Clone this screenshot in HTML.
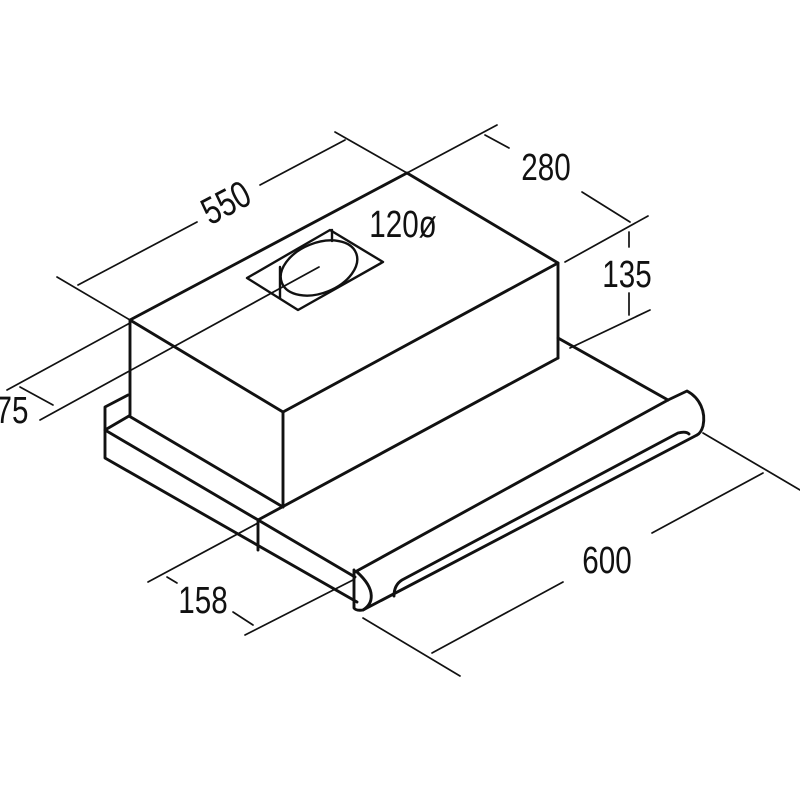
<!DOCTYPE html>
<html><head><meta charset="utf-8"><style>
html,body{margin:0;padding:0;background:#fff;}
svg{display:block}
text{font-family:"Liberation Sans",sans-serif;font-size:38px;fill:#111;}
</style></head><body>
<svg width="800" height="800" viewBox="0 0 800 800" xmlns="http://www.w3.org/2000/svg">
<g fill="none" stroke="#111" stroke-width="2.9" stroke-linejoin="round" stroke-linecap="round">
  <polyline points="130,415 130,320 407,173 558,263 558,358"/>
  <polyline points="130,320 283,412 558,263"/>
  <line x1="283" y1="412" x2="283" y2="507"/>
  <polyline points="128,395 105,407 105,458 357,602"/>
  <line x1="105" y1="430" x2="129" y2="416"/>
  <line x1="105" y1="430" x2="355" y2="577"/>
  <line x1="129" y1="416" x2="283" y2="507"/>
  <line x1="258" y1="520" x2="558" y2="358"/>
  <line x1="258" y1="520" x2="258" y2="550"/>
  <line x1="558" y1="338" x2="668" y2="400"/>
  <line x1="355" y1="572" x2="668" y2="400"/>
  <path d="M668,400 L687,391 C700,398 706,412 703,426 Q701,433 697,435"/>
  <path d="M354,570 L354,608 Q356,611 363,610 C373,604 377,590 357,572"/>
  <line x1="363" y1="610" x2="697" y2="435"/>
  <path d="M394,596 Q394,585 402,580 L678,433 Q686,431 689,434"/>
  <polygon points="247,278 330,230 383,262 298,310" stroke-width="2.4"/>
  <ellipse cx="319" cy="268" rx="40" ry="25" transform="rotate(-22 319 268)" stroke-width="2.4"/>
  <line x1="280" y1="267" x2="280" y2="298" stroke-width="2.4"/>
  <line x1="332" y1="230" x2="332" y2="241" stroke-width="2.4"/>
</g>
<g fill="none" stroke="#111" stroke-width="1.7" stroke-linecap="round">
  <line x1="130" y1="320" x2="57" y2="277"/>
  <line x1="407" y1="173" x2="335" y2="132"/>
  <line x1="78" y1="285" x2="197" y2="222"/>
  <line x1="260" y1="185" x2="345" y2="140"/>
  <line x1="407" y1="173" x2="497" y2="125"/>
  <line x1="565" y1="262" x2="648" y2="216"/>
  <line x1="485" y1="135" x2="509" y2="148"/>
  <line x1="582" y1="192" x2="630" y2="222"/>
  <line x1="570" y1="348" x2="650" y2="310"/>
  <line x1="629" y1="232" x2="629" y2="247"/>
  <line x1="629" y1="293" x2="629" y2="315"/>
  <line x1="130" y1="323" x2="7" y2="390"/>
  <line x1="319" y1="267" x2="40" y2="420"/>
  <line x1="20" y1="387" x2="53" y2="405"/>
  <line x1="258" y1="523" x2="148" y2="582"/>
  <line x1="353" y1="580" x2="245" y2="635"/>
  <line x1="167" y1="577" x2="177" y2="583"/>
  <line x1="233" y1="612" x2="253" y2="625"/>
  <line x1="703" y1="433" x2="800" y2="490"/>
  <line x1="363" y1="618" x2="460" y2="676"/>
  <line x1="432" y1="653" x2="563" y2="582"/>
  <line x1="652" y1="533" x2="763" y2="473"/>
</g>
<g>
  <text transform="translate(232,214) rotate(-28) scale(0.78,1)" text-anchor="middle">550</text>
  <text transform="translate(546,180) scale(0.78,1)" text-anchor="middle">280</text>
  <text transform="translate(627,287) scale(0.78,1)" text-anchor="middle">135</text>
  <text transform="translate(403,237) scale(0.78,1)" text-anchor="middle">120ø</text>
  <text transform="translate(12,423) scale(0.78,1)" text-anchor="middle">75</text>
  <text transform="translate(203,613) scale(0.78,1)" text-anchor="middle">158</text>
  <text transform="translate(607,573) scale(0.78,1)" text-anchor="middle">600</text>
</g>
</svg>
</body></html>
